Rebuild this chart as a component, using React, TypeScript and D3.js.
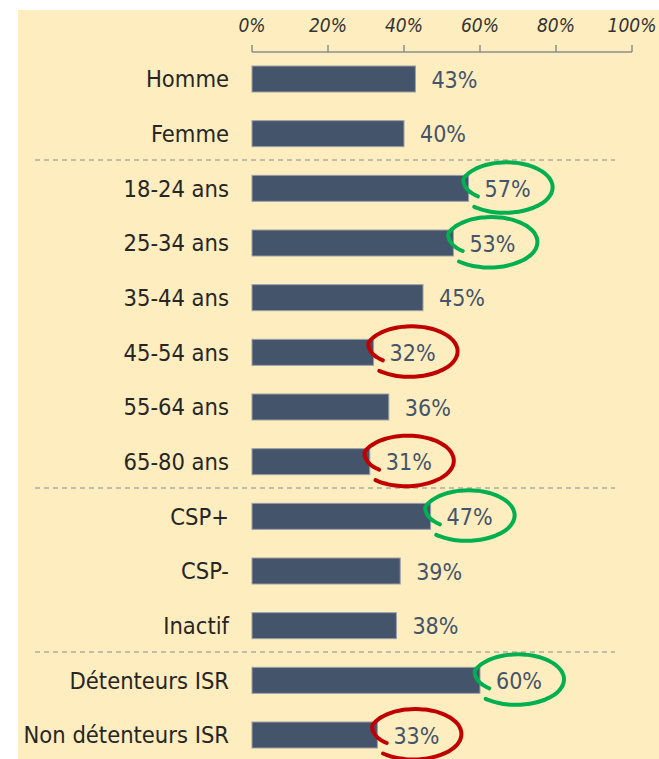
import React from "react";
import * as d3 from "d3";

const categories = [
  "Homme",
  "Femme",
  "18-24 ans",
  "25-34 ans",
  "35-44 ans",
  "45-54 ans",
  "55-64 ans",
  "65-80 ans",
  "CSP+",
  "CSP-",
  "Inactif",
  "Détenteurs ISR",
  "Non détenteurs ISR",
];
const values = [43, 40, 57, 53, 45, 32, 36, 31, 47, 39, 38, 60, 33];
const tickValues = [0, 20, 40, 60, 80, 100];
const separatorsAfter = ["Femme", "65-80 ans", "Inactif"];
const greenHighlights = ["18-24 ans", "25-34 ans", "CSP+", "Détenteurs ISR"];
const redHighlights = ["45-54 ans", "65-80 ans", "Non détenteurs ISR"];

const W = 659;
const H = 759;
const FONT = "'DejaVu Sans Condensed', 'DejaVu Sans', sans-serif";

function loopPath(cx: number, cy: number, rx: number, ry: number) {
  const pts: [number, number][] = [];
  for (let deg = 150; deg <= 492; deg += 6) {
    const t = (deg * Math.PI) / 180;
    let f = 1;
    if (deg < 200) f = 0.72 + 0.28 * ((deg - 150) / 50);
    if (deg > 420) f = 1 + 0.05 * ((deg - 420) / 72);
    pts.push([cx + rx * f * Math.cos(t), cy + ry * f * Math.sin(t)]);
  }
  return d3.line().curve(d3.curveCatmullRom)(pts) || "";
}

export default function App() {
  const x = d3.scaleLinear().domain([0, 100]).range([252, 632]);
  const y = d3.scalePoint<string>().domain(categories).range([79, 735]);
  const step = y.step();
  const barH = 26;
  const axisY = 52;

  return (
    <svg
      width={W}
      height={H}
      style={{ position: "absolute", left: 0, top: 0 }}
      fontFamily={FONT}
    >
      <rect x={0} y={0} width={W} height={H} fill="#ffffff" />
      <rect x={18} y={10} width={W - 18} height={H - 10} fill="#FEEDBE" />

      {/* axis */}
      <line x1={x(0)} x2={x(100)} y1={axisY} y2={axisY} stroke="#8c8c8c" strokeWidth={1.5} />
      {tickValues.map((t) => (
        <g key={t}>
          <line x1={x(t)} x2={x(t)} y1={axisY - 7} y2={axisY} stroke="#8c8c8c" strokeWidth={1.5} />
          <text
            x={x(t)}
            y={32}
            textAnchor="middle"
            fontSize={19}
            fontStyle="italic"
            fill="#333333"
          >
            {t}%
          </text>
        </g>
      ))}

      {/* separators */}
      {separatorsAfter.map((c) => {
        const yy = (y(c) as number) + step / 2 - 1;
        return (
          <line
            key={c}
            x1={35}
            x2={615}
            y1={yy}
            y2={yy}
            stroke="#8a8a8a"
            strokeWidth={1}
            strokeDasharray="5,4"
          />
        );
      })}

      {/* bars */}
      {categories.map((c, i) => {
        const cy = y(c) as number;
        return (
          <g key={c}>
            <text
              x={229}
              y={cy}
              dy="0.36em"
              textAnchor="end"
              fontSize={23.5}
              fill="#262626"
            >
              {c}
            </text>
            <rect
              x={x(0)}
              y={cy - barH / 2}
              width={x(values[i]) - x(0)}
              height={barH}
              fill="#44546A"
              stroke="#9aa0a8"
              strokeWidth={1}
            />
            <text
              x={x(values[i]) + 16}
              y={cy}
              dy="0.37em"
              fontSize={23}
              fill="#44546A"
            >
              {values[i]}%
            </text>
          </g>
        );
      })}

      {/* hand-drawn highlights */}
      {categories.map((c, i) => {
        const isG = greenHighlights.includes(c);
        const isR = redHighlights.includes(c);
        if (!isG && !isR) return null;
        const cx = x(values[i]) + 38;
        const cy = (y(c) as number) - 1;
        return (
          <path
            key={"h" + c}
            d={loopPath(cx, cy, 46, 25)}
            fill="none"
            stroke={isG ? "#00B050" : "#C00000"}
            strokeWidth={4}
            strokeLinecap="round"
          />
        );
      })}
    </svg>
  );
}
